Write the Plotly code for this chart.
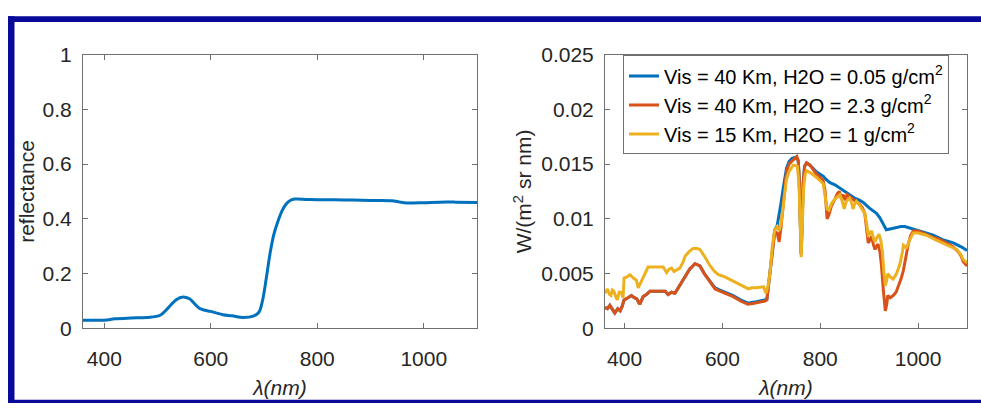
import plotly.graph_objects as go

# ---------------- data ----------------
wl_refl = [360, 400, 420, 450, 480, 505, 520, 535, 548, 560, 580, 600, 623, 640, 660, 680, 690,
           697, 704, 711, 718, 726, 734, 742, 750, 758, 780, 800, 850, 900, 940, 955, 968,
           1000, 1030, 1060, 1100]
reflectance = [0.030, 0.030, 0.035, 0.038, 0.040, 0.048, 0.075, 0.105, 0.115, 0.108, 0.072, 0.062,
               0.050, 0.046, 0.040, 0.045, 0.058, 0.10, 0.18, 0.27, 0.34, 0.39, 0.43, 0.455, 0.468,
               0.472, 0.471, 0.470, 0.469, 0.467, 0.466, 0.461, 0.458, 0.459, 0.461, 0.461, 0.460]

wl_blue = [360, 365, 370, 375, 380, 386, 391, 395, 399, 407, 414, 420, 425, 431, 438, 445, 452, 470,
           483, 489, 496, 503, 513, 523, 533, 544, 554, 563, 575, 585, 595, 610, 622, 637, 652, 665,
           677, 687, 691, 697, 702, 707, 712, 716, 720, 724, 731, 736, 742, 747, 752, 755, 757, 759,
           761, 763, 765, 768, 772, 779, 785, 792, 799, 806, 812, 820, 830, 840, 850, 860, 870, 880,
           888, 900, 910, 915, 922, 929, 935, 945, 956, 965, 973, 980, 990, 1010, 1031, 1050, 1072,
           1090, 1100]
rad_blue = [0.0019, 0.0018, 0.0021, 0.0017, 0.0014, 0.0018, 0.0016, 0.0020, 0.0026, 0.0028, 0.0030,
            0.0028, 0.0027, 0.0022, 0.0029, 0.0031, 0.0034, 0.0034, 0.0034, 0.0031, 0.0033, 0.0032,
            0.0039, 0.0047, 0.0054, 0.0059, 0.0057, 0.0050, 0.0043, 0.0037, 0.0035, 0.0032, 0.0030,
            0.0026, 0.0023, 0.0024, 0.0025, 0.0026, 0.0027, 0.0052, 0.0075, 0.0090, 0.0094, 0.0103,
            0.0115, 0.0127, 0.0146, 0.0152, 0.0155, 0.0156, 0.0156, 0.0153, 0.0138, 0.0100, 0.0068,
            0.0095, 0.0132, 0.0148, 0.0151, 0.0149, 0.0146, 0.0143, 0.0141, 0.0139, 0.0136, 0.0133,
            0.0131, 0.0128, 0.0125, 0.0122, 0.0119, 0.0117, 0.0115, 0.0110, 0.0107, 0.0105, 0.0101,
            0.0095, 0.0090, 0.0091, 0.0092, 0.0093, 0.0093, 0.0092, 0.0091, 0.0088, 0.0085, 0.0081,
            0.0078, 0.0074, 0.0071]

wl_orange = [360, 365, 370, 375, 380, 386, 391, 395, 399, 407, 414, 420, 425, 431, 438, 445, 452, 470,
             483, 489, 496, 503, 513, 523, 533, 544, 554, 563, 575, 585, 595, 610, 622, 637, 652, 665,
             677, 687, 691, 697, 702, 707, 712, 716, 720, 724, 731, 736, 742, 747, 752, 755, 757, 759,
             761, 763, 765, 768, 772, 779, 785, 792, 799, 806, 810, 814, 818, 823, 830, 835, 839, 843,
             847, 851, 855, 861, 867, 874, 881, 886, 891, 895, 898, 901, 905, 909, 912, 915, 918, 922,
             925, 929, 933, 936, 938, 943, 949, 955, 960, 965, 970, 975, 980, 985, 990, 1000, 1010,
             1031, 1045, 1058, 1070, 1082, 1088, 1092, 1096, 1100]
rad_orange = [0.0019, 0.0018, 0.0021, 0.0017, 0.0014, 0.0018, 0.0016, 0.0020, 0.0026, 0.0028, 0.0030,
              0.0028, 0.0027, 0.0022, 0.0029, 0.0031, 0.0034, 0.0034, 0.0034, 0.0031, 0.0033, 0.0032,
              0.0039, 0.0047, 0.0054, 0.0059, 0.0057, 0.0050, 0.0042, 0.0036, 0.0034, 0.0031, 0.0029,
              0.0025, 0.0022, 0.0023, 0.0024, 0.0025, 0.0026, 0.0050, 0.0072, 0.0088, 0.0087, 0.0079,
              0.0093, 0.0111, 0.0143, 0.0150, 0.0153, 0.0155, 0.0157, 0.0153, 0.0138, 0.0100, 0.0068,
              0.0095, 0.0132, 0.0148, 0.0151, 0.0149, 0.0145, 0.0141, 0.0138, 0.0135, 0.0125, 0.0100,
              0.0104, 0.0112, 0.0118, 0.0123, 0.0125, 0.0119, 0.0122, 0.0117, 0.0122, 0.0120, 0.0118,
              0.0116, 0.0113, 0.0110, 0.0105, 0.0090, 0.0078, 0.0080, 0.0084, 0.0076, 0.0072, 0.0075,
              0.0077, 0.0070, 0.0058, 0.0035, 0.0016, 0.0022, 0.0030, 0.0028, 0.0030, 0.0033, 0.0039,
              0.0045, 0.0053, 0.0066, 0.0077, 0.0085, 0.0089, 0.0089, 0.0087, 0.0083, 0.0081, 0.0078,
              0.0075, 0.0070, 0.0066, 0.0061, 0.0059, 0.0057]

wl_yellow = [360, 365, 369, 372, 375, 378, 382, 385, 389, 393, 397, 399, 405, 411, 418, 424, 428, 433,
             438, 443, 448, 465, 479, 486, 491, 496, 501, 505, 513, 519, 524, 532, 540, 548, 554, 563,
             575, 584, 592, 605, 622, 637, 653, 660, 670, 684, 689, 693, 697, 702, 707, 712, 716, 720,
             724, 731, 736, 745, 753, 755, 757, 759, 761, 763, 766, 769, 772, 780, 792, 806, 810, 814,
             818, 823, 830, 836, 840, 845, 849, 853, 860, 864, 867, 870, 874, 881, 891, 895, 898, 901,
             905, 909, 912, 916, 920, 924, 927, 930, 933, 936, 938, 943, 949, 956, 963, 968, 970, 973,
             976, 982, 990, 1000, 1017, 1035, 1058, 1079, 1088, 1092, 1100]
rad_yellow = [0.0032, 0.0036, 0.0031, 0.0030, 0.0035, 0.0034, 0.0029, 0.0026, 0.0033, 0.0033, 0.0028,
              0.0046, 0.0047, 0.0049, 0.0046, 0.0044, 0.0037, 0.0042, 0.0047, 0.0051, 0.0056, 0.0056,
              0.0056, 0.0051, 0.0054, 0.0055, 0.0052, 0.0053, 0.0055, 0.0060, 0.0066, 0.0070, 0.0073,
              0.0073, 0.0072, 0.0066, 0.0057, 0.0052, 0.0049, 0.0047, 0.0043, 0.0040, 0.0036, 0.0037,
              0.0037, 0.0038, 0.0032, 0.0038, 0.0050, 0.0075, 0.0090, 0.0093, 0.0089, 0.0096, 0.0110,
              0.0136, 0.0143, 0.0149, 0.0148, 0.0140, 0.0125, 0.0095, 0.0065, 0.0090, 0.0128, 0.0140,
              0.0144, 0.0142, 0.0138, 0.0132, 0.0122, 0.0109, 0.0108, 0.0114, 0.0118, 0.0121, 0.0122,
              0.0116, 0.0109, 0.0116, 0.0119, 0.0115, 0.0109, 0.0113, 0.0116, 0.0112, 0.0105, 0.0095,
              0.0085, 0.0086, 0.0089, 0.0082, 0.0079, 0.0083, 0.0086, 0.0080, 0.0070, 0.0052, 0.0039,
              0.0044, 0.0050, 0.0047, 0.0045, 0.0050, 0.0059, 0.0070, 0.0076, 0.0075, 0.0073, 0.0080,
              0.0087, 0.0087, 0.0085, 0.0081, 0.0076, 0.0072, 0.0067, 0.0063, 0.0060]

series_names = ["Vis = 40 Km, H2O = 0.05 g/cm<sup>2</sup>",
                "Vis = 40 Km, H2O = 2.3 g/cm<sup>2</sup>",
                "Vis = 15 Km, H2O = 1 g/cm<sup>2</sup>"]
x_ticks = [400, 600, 800, 1000]
refl_ticks = [0, 0.2, 0.4, 0.6, 0.8, 1]
refl_ticktext = ["0", "0.2", "0.4", "0.6", "0.8", "1"]
rad_ticks = [0, 0.005, 0.01, 0.015, 0.02, 0.025]
rad_ticktext = ["0", "0.005", "0.01", "0.015", "0.02", "0.025"]

# ---------------- figure ----------------
W, H = 981, 414
BLUE, ORANGE, YELLOW = "#0072BD", "#D95319", "#EDB120"
FONT = "Liberation Sans, Arial, sans-serif"
TXT = "#262626"
AXC = "#707070"
FS = 21

fig = go.Figure()
fig.add_trace(go.Scatter(x=wl_refl, y=reflectance, mode="lines", line=dict(color=BLUE, width=3),
                         line_shape="spline", showlegend=False, xaxis="x", yaxis="y"))
fig.add_trace(go.Scatter(x=wl_blue, y=rad_blue, mode="lines", name=series_names[0],
                         line=dict(color=BLUE, width=3), xaxis="x2", yaxis="y2"))
fig.add_trace(go.Scatter(x=wl_orange, y=rad_orange, mode="lines", name=series_names[1],
                         line=dict(color=ORANGE, width=3), xaxis="x2", yaxis="y2"))
fig.add_trace(go.Scatter(x=wl_yellow, y=rad_yellow, mode="lines", name=series_names[2],
                         line=dict(color=YELLOW, width=3), xaxis="x2", yaxis="y2"))

def px(x):
    return x / W

def py(y):
    return 1 - y / H

common_axis = dict(showline=True, linecolor=AXC, linewidth=1, mirror="ticks", ticks="inside",
                   ticklen=5, tickcolor=AXC, showgrid=False, zeroline=False,
                   tickfont=dict(family=FONT, size=FS, color=TXT))
title_font = dict(family=FONT, size=FS, color=TXT)

ydom = [py(335), py(45)]
fig.update_layout(
    width=W, height=H, margin=dict(l=0, r=0, t=0, b=0),
    paper_bgcolor="white", plot_bgcolor="white",
    font=dict(family=FONT, size=FS, color=TXT),
    xaxis=dict(domain=[px(83), px(477)], range=[360, 1100], tickvals=x_ticks,
               title=dict(text="<i>λ(nm)</i>", font=title_font, standoff=11),
               anchor="y", ticklabelstandoff=11, **common_axis),
    yaxis=dict(domain=ydom, range=[0, 1], tickvals=refl_ticks, ticktext=refl_ticktext,
               title=dict(text="reflectance", font=title_font, standoff=2),
               anchor="x", ticklabelstandoff=6, **common_axis),
    xaxis2=dict(domain=[px(605), px(967)], range=[360, 1100], tickvals=x_ticks,
                title=dict(text="<i>λ(nm)</i>", font=title_font, standoff=11),
                anchor="y2", ticklabelstandoff=11, **common_axis),
    yaxis2=dict(domain=ydom, range=[0, 0.025], tickvals=rad_ticks, ticktext=rad_ticktext,
                title=dict(text="W/(m<sup>2</sup> sr nm)", font=title_font, standoff=3),
                anchor="x2", ticklabelstandoff=6, **common_axis),
    legend=dict(x=px(623), y=py(46), xanchor="left", yanchor="top",
                bgcolor="white", bordercolor=AXC, borderwidth=1,
                font=dict(family=FONT, size=20, color="black"),
                itemwidth=30, tracegroupgap=0),
    showlegend=True,
)

# dark-blue frame (top, left, bottom)
FRAME = "#0a0a9a"
for (x0, y0, x1, y1) in [(8, 4.5, 981, 10.5), (8, 4.5, 14.5, 414), (8, 410.5, 981, 414)]:
    fig.add_shape(type="rect", xref="paper", yref="paper", x0=px(x0), x1=px(x1),
                  y0=py(y1), y1=py(y0), fillcolor=FRAME, line=dict(width=0), layer="above")

fig.write_html("out.html")
